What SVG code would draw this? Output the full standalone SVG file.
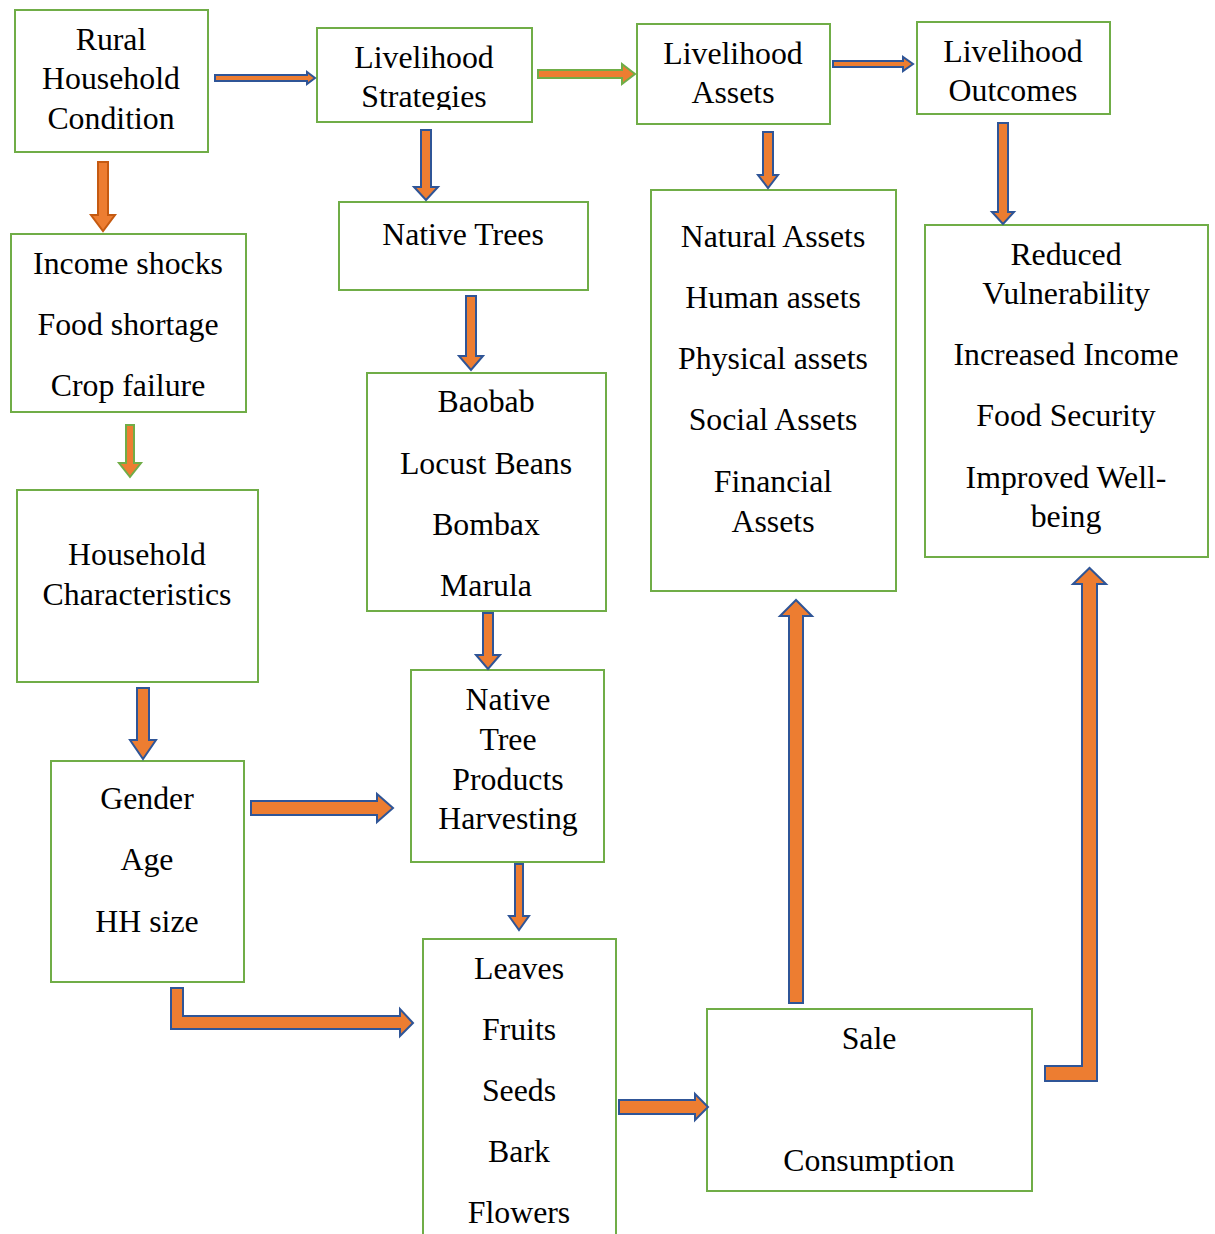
<svg xmlns="http://www.w3.org/2000/svg" width="1215" height="1234" viewBox="0 0 1215 1234">
<defs>
<style>
.box{fill:#ffffff;stroke:#70ad47;stroke-width:2}
.t{font-family:"Liberation Serif","Times New Roman",serif;font-size:31.8px;fill:#000;text-anchor:middle}
.ab{fill:#ed7d31;stroke:#2f5597;stroke-width:2;stroke-linejoin:miter}
.ag{fill:#ed7d31;stroke:#70ad47;stroke-width:2}
.ao{fill:#ed7d31;stroke:#c55a11;stroke-width:2}
</style>
<clipPath id="clipStrat"><rect x="317" y="28" width="215" height="82"/></clipPath>
</defs>
<rect width="1215" height="1234" fill="#ffffff"/>

<g id="n-rural">
<rect class="box" x="15" y="10" width="193" height="142"/>
<text class="t" x="111" y="50">Rural</text>
<text class="t" x="111" y="89">Household</text>
<text class="t" x="111" y="129">Condition</text>
</g>
<g id="n-strategies">
<rect class="box" x="317" y="28" width="215" height="94"/>
<text class="t" x="424" y="68">Livelihood</text>
<text class="t" x="424" y="107" clip-path="url(#clipStrat)">Strategies</text>
</g>
<g id="n-assets">
<rect class="box" x="637" y="24" width="193" height="100"/>
<text class="t" x="733" y="64">Livelihood</text>
<text class="t" x="733" y="103">Assets</text>
</g>
<g id="n-outcomes">
<rect class="box" x="917" y="22" width="193" height="92"/>
<text class="t" x="1013" y="62">Livelihood</text>
<text class="t" x="1013" y="101">Outcomes</text>
</g>
<g id="n-shocks">
<rect class="box" x="11" y="234" width="235" height="178"/>
<text class="t" x="128" y="274">Income shocks</text>
<text class="t" x="128" y="335">Food shortage</text>
<text class="t" x="128" y="396">Crop failure</text>
</g>
<g id="n-nativetrees">
<rect class="box" x="339" y="202" width="249" height="88"/>
<text class="t" x="463" y="245">Native Trees</text>
</g>
<g id="n-assettypes">
<rect class="box" x="651" y="190" width="245" height="401"/>
<text class="t" x="773" y="247">Natural Assets</text>
<text class="t" x="773" y="308">Human assets</text>
<text class="t" x="773" y="369">Physical assets</text>
<text class="t" x="773" y="430">Social Assets</text>
<text class="t" x="773" y="492">Financial</text>
<text class="t" x="773" y="532">Assets</text>
</g>
<g id="n-results">
<rect class="box" x="925" y="225" width="283" height="332"/>
<text class="t" x="1066" y="265">Reduced</text>
<text class="t" x="1066" y="304">Vulnerability</text>
<text class="t" x="1066" y="365">Increased Income</text>
<text class="t" x="1066" y="426">Food Security</text>
<text class="t" x="1066" y="488">Improved Well-</text>
<text class="t" x="1066" y="527">being</text>
</g>
<g id="n-species">
<rect class="box" x="367" y="373" width="239" height="238"/>
<text class="t" x="486" y="412">Baobab</text>
<text class="t" x="486" y="474">Locust Beans</text>
<text class="t" x="486" y="535">Bombax</text>
<text class="t" x="486" y="596">Marula</text>
</g>
<g id="n-hhchar">
<rect class="box" x="17" y="490" width="241" height="192"/>
<text class="t" x="137" y="565">Household</text>
<text class="t" x="137" y="605">Characteristics</text>
</g>
<g id="n-harvest">
<rect class="box" x="411" y="670" width="193" height="192"/>
<text class="t" x="508" y="710">Native</text>
<text class="t" x="508" y="750">Tree</text>
<text class="t" x="508" y="790">Products</text>
<text class="t" x="508" y="829">Harvesting</text>
</g>
<g id="n-gender">
<rect class="box" x="51" y="761" width="193" height="221"/>
<text class="t" x="147" y="809">Gender</text>
<text class="t" x="147" y="870">Age</text>
<text class="t" x="147" y="932">HH size</text>
</g>
<g id="n-parts">
<rect class="box" x="423" y="939" width="193" height="310"/>
<text class="t" x="519" y="979">Leaves</text>
<text class="t" x="519" y="1040">Fruits</text>
<text class="t" x="519" y="1101">Seeds</text>
<text class="t" x="519" y="1162">Bark</text>
<text class="t" x="519" y="1223">Flowers</text>
</g>
<g id="n-use">
<rect class="box" x="707" y="1009" width="325" height="182"/>
<text class="t" x="869" y="1049">Sale</text>
<text class="t" x="869" y="1171">Consumption</text>
</g>

<g id="connectors">
<polygon class="ab" points="215,75 307,75 307,72 315,78 307,84 307,81 215,81"/>
<polygon class="ag" points="538,70 622,70 622,64 635,74 622,84 622,78 538,78"/>
<polygon class="ab" points="833,61 903,61 903,57 913,64 903,71 903,67 833,67"/>
<polygon class="ao" points="98,162 108,162 108,215 115,215 103,231 91,215 98,215"/>
<polygon class="ag" points="126,425 134,425 134,463 141,463 130,477 119,463 126,463"/>
<polygon class="ab" points="421,130 431,130 431,187 438,187 426,200 414,187 421,187"/>
<polygon class="ab" points="466,296 476,296 476,356 483,356 471,370 459,356 466,356"/>
<polygon class="ab" points="483,613 493,613 493,655 500,655 488,669 476,655 483,655"/>
<polygon class="ab" points="515,864 523,864 523,916 529,916 519,930 509,916 515,916"/>
<polygon class="ab" points="137,688 149,688 149,740 156,740 143,759 130,740 137,740"/>
<polygon class="ab" points="763,132 773,132 773,175 778,175 768,188 758,175 763,175"/>
<polygon class="ab" points="998,123 1008,123 1008,212 1014,212 1003,224 992,212 998,212"/>
<polygon class="ab" points="251,801 377,801 377,794 393,808 377,822 377,815 251,815"/>
<polygon class="ab" points="619,1100 695,1100 695,1094 708,1107 695,1120 695,1114 619,1114"/>
<polygon class="ab" points="789,1003 803,1003 803,616 812,616 796,600 780,616 789,616"/>
<polygon class="ab" points="171,988 183,988 183,1016 400,1016 400,1009 413,1023 400,1036 400,1029 171,1029"/>
<polygon class="ab" points="1045,1066 1082,1066 1082,584 1073,584 1089.5,568 1106,584 1097,584 1097,1081 1045,1081"/>
</g>
</svg>
